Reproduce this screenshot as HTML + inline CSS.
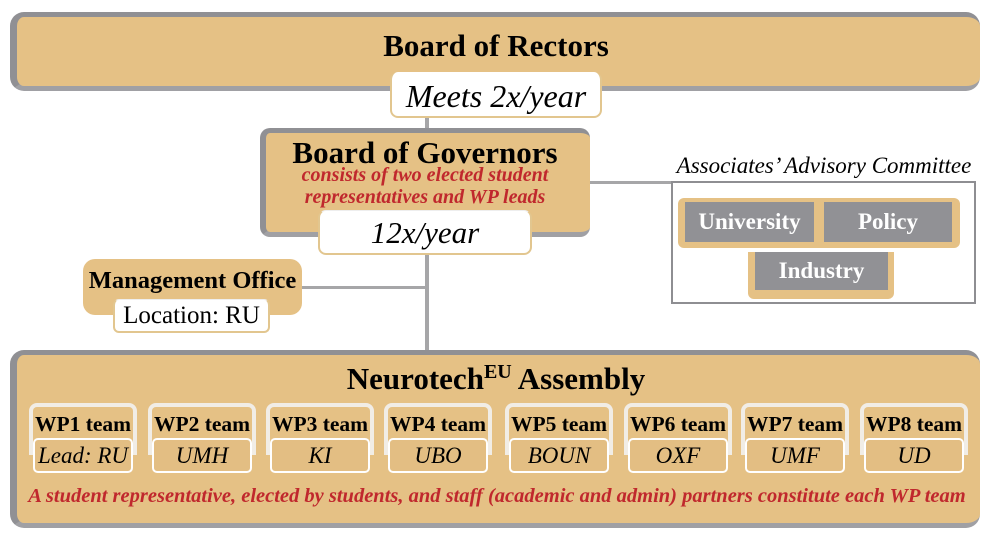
<!DOCTYPE html>
<html><head><meta charset="utf-8"><style>
body{margin:0;width:994px;height:534px;background:#fff;position:relative;overflow:hidden;font-family:"Liberation Serif",serif}
.a{position:absolute;box-sizing:border-box}
.tan{background:#e5c185}
.line{position:absolute;background:#a6a6a8}
.t{position:absolute;text-align:center;white-space:nowrap}
.b{font-weight:bold}
.i{font-style:italic}
.red{color:#c0282d;font-weight:bold;font-style:italic}
.wb{position:absolute;box-sizing:border-box;border:4px solid #f1ede6;border-bottom:none;border-radius:8px 8px 0 0;height:52px;width:108px;top:403px}
.ws{position:absolute;box-sizing:border-box;border:2px solid #fff;border-radius:5px;height:35px;width:100px;top:438px;background:#e3be83;font-style:italic;font-size:23px;text-align:center;line-height:31px;white-space:nowrap}
.wt{position:absolute;top:410px;width:108px;text-align:center;font-weight:bold;font-size:21.5px;white-space:nowrap;line-height:28px}
.g{position:absolute;background:#919195;color:#fff;font-weight:bold;font-size:23px;text-align:center;box-sizing:border-box}
</style></head><body>
<div class="line" style="left:425px;top:110px;width:4px;height:244px"></div>
<div class="line" style="left:585px;top:181px;width:87px;height:3px"></div>
<div class="line" style="left:300px;top:286px;width:127px;height:3px"></div>

<div class="a tan" style="left:10px;top:12px;width:970px;height:79px;border-left:7px solid #909094;border-top:5px solid #909094;border-bottom:5px solid #a0a0a4;border-radius:14px"></div>
<div class="t b" style="left:300px;top:28px;width:392px;font-size:31px;line-height:36px">Board of Rectors</div>
<div class="a" style="left:390px;top:72px;width:212px;height:46px;background:#fff;border:2px solid #e2c68f;border-top:none;border-radius:8px"></div>
<div class="t i" style="left:390px;top:76px;width:212px;font-size:32px;line-height:40px">Meets 2x/year</div>

<div class="a tan" style="left:260px;top:128px;width:330px;height:109px;border-left:6px solid #909094;border-top:5px solid #909094;border-bottom:5px solid #a0a0a4;border-radius:10px"></div>
<div class="t b" style="left:260px;top:135px;width:330px;font-size:31px;line-height:36px">Board of Governors</div>
<div class="t red" style="left:260px;top:164px;width:330px;font-size:20px;line-height:22px">consists of two elected student<br>representatives and WP leads</div>
<div class="a" style="left:318px;top:210px;width:214px;height:45px;background:#fff;border:2px solid #e2c68f;border-top:1px solid #eee;border-radius:8px"></div>
<div class="t i" style="left:318px;top:213px;width:214px;font-size:31px;line-height:40px">12x/year</div>

<div class="t i" style="left:670px;top:152px;width:308px;font-size:23px;line-height:28px">Associates’ Advisory Committee</div>
<div class="a" style="left:671px;top:181px;width:305px;height:123px;border:2px solid #8e8e92;background:#fff"></div>
<div class="a" style="left:678px;top:198px;width:282px;height:50px;background:#e5c185;border-radius:6px"></div>
<div class="g" style="left:685px;top:202px;width:129px;height:40px;line-height:40px">University</div>
<div class="g" style="left:824px;top:202px;width:128px;height:40px;line-height:40px">Policy</div>
<div class="a" style="left:748px;top:252px;width:146px;height:47px;background:#e5c185;border-radius:0 0 6px 6px"></div>
<div class="g" style="left:755px;top:252px;width:133px;height:38px;line-height:38px">Industry</div>

<div class="a tan" style="left:83px;top:259px;width:219px;height:56px;border-radius:12px"></div>
<div class="t b" style="left:80px;top:266px;width:225px;font-size:24.5px;line-height:30px">Management Office</div>
<div class="a" style="left:113px;top:299px;width:157px;height:34px;background:#fff;border:2px solid #e2c68f;border-top:1px solid #eee;border-radius:6px"></div>
<div class="t" style="left:113px;top:300px;width:157px;font-size:25px;line-height:32px">Location: RU</div>

<div class="a tan" style="left:10px;top:350px;width:970px;height:178px;border-left:7px solid #909094;border-top:5px solid #909094;border-bottom:5px solid #a0a0a4;border-radius:14px"></div>
<div class="t b" style="left:250px;top:360px;width:492px;font-size:31px;line-height:38px">Neurotech<sup style="font-size:20px;vertical-align:11px;line-height:0">EU</sup> Assembly</div>

<div class="wb" style="left:29px"></div><div class="wt" style="left:29px">WP1 team</div><div class="ws" style="left:33px">Lead: RU</div>
<div class="wb" style="left:148px"></div><div class="wt" style="left:148px">WP2 team</div><div class="ws" style="left:152px">UMH</div>
<div class="wb" style="left:266px"></div><div class="wt" style="left:266px">WP3 team</div><div class="ws" style="left:270px">KI</div>
<div class="wb" style="left:384px"></div><div class="wt" style="left:384px">WP4 team</div><div class="ws" style="left:388px">UBO</div>
<div class="wb" style="left:505px"></div><div class="wt" style="left:505px">WP5 team</div><div class="ws" style="left:509px">BOUN</div>
<div class="wb" style="left:624px"></div><div class="wt" style="left:624px">WP6 team</div><div class="ws" style="left:628px">OXF</div>
<div class="wb" style="left:741px"></div><div class="wt" style="left:741px">WP7 team</div><div class="ws" style="left:745px">UMF</div>
<div class="wb" style="left:860px"></div><div class="wt" style="left:860px">WP8 team</div><div class="ws" style="left:864px">UD</div>

<div class="t red" style="left:17px;top:483px;width:960px;font-size:20.5px;line-height:26px">A student representative, elected by students, and staff (academic and admin) partners constitute each WP team</div>
</body></html>
